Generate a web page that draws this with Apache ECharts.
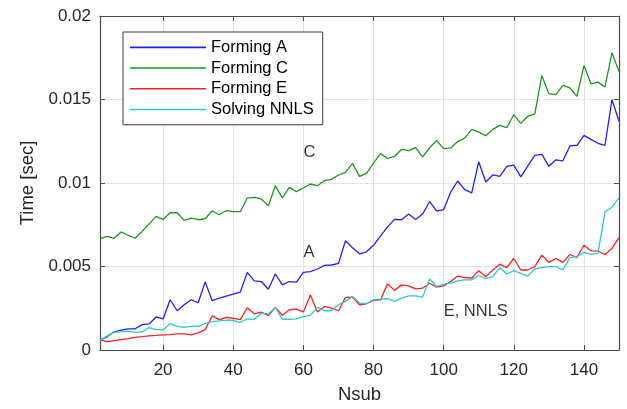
<!DOCTYPE html>
<html>
<head>
<meta charset="utf-8">
<script src="https://cdn.jsdelivr.net/npm/echarts@6/dist/echarts.min.js"></script>
<style>
  html, body { margin: 0; padding: 0; background: #fff; }
  #chart { width: 627px; height: 409px; }
</style>
</head>
<body>
<div id="chart"></div>
<script>
// Number of subdomains
const nsub = [2,4,6,8,10,12,14,16,18,20,22,24,26,28,30,32,34,36,38,40,
  42,44,46,48,50,52,54,56,58,60,62,64,66,68,70,72,74,76,78,80,
  82,84,86,88,90,92,94,96,98,100,102,104,106,108,110,112,114,116,118,120,
  122,124,126,128,130,132,134,136,138,140,142,144,146,148,150];

// Timings in seconds
const formingA = [0.00059,0.00079,0.00109,0.00119,0.00127,0.00127,0.00152,0.00156,0.00198,0.00186,
  0.00301,0.00235,0.00271,0.00301,0.00283,0.00408,0.00295,0.00310,0.00322,0.00334,
  0.00346,0.00465,0.00414,0.00410,0.00364,0.00455,0.00390,0.00410,0.00406,0.00465,
  0.00469,0.00485,0.00507,0.00509,0.00519,0.00654,0.00612,0.00576,0.00588,0.00627,
  0.00683,0.00737,0.00782,0.00780,0.00814,0.00782,0.00814,0.00889,0.00832,0.00841,
  0.00945,0.01012,0.00960,0.00941,0.01127,0.01006,0.01048,0.01040,0.01100,0.01107,
  0.01037,0.01103,0.01166,0.01172,0.01100,0.01139,0.01133,0.01222,0.01226,0.01285,
  0.01261,0.01238,0.01226,0.01499,0.01370];

const formingC = [0.00667,0.00681,0.00669,0.00707,0.00687,0.00669,0.00710,0.00755,0.00800,0.00782,
  0.00822,0.00822,0.00776,0.00790,0.00780,0.00786,0.00834,0.00810,0.00835,0.00828,
  0.00828,0.00910,0.00914,0.00904,0.00863,0.00984,0.00911,0.00974,0.00948,0.00970,
  0.00994,0.00984,0.01014,0.01022,0.01048,0.01064,0.01117,0.01040,0.01058,0.01119,
  0.01176,0.01147,0.01159,0.01202,0.01194,0.01212,0.01156,0.01212,0.01254,0.01206,
  0.01210,0.01248,0.01269,0.01321,0.01305,0.01283,0.01321,0.01345,0.01331,0.01410,
  0.01357,0.01400,0.01414,0.01644,0.01535,0.01529,0.01584,0.01569,0.01519,0.01703,
  0.01594,0.01604,0.01575,0.01780,0.01667];

const formingE = [0.00060,0.00050,0.00056,0.00062,0.00068,0.00076,0.00080,0.00085,0.00087,0.00090,
  0.00092,0.00097,0.00097,0.00090,0.00103,0.00122,0.00204,0.00182,0.00196,0.00190,
  0.00182,0.00253,0.00217,0.00227,0.00206,0.00255,0.00208,0.00241,0.00245,0.00228,
  0.00330,0.00228,0.00261,0.00251,0.00235,0.00315,0.00317,0.00271,0.00277,0.00297,
  0.00301,0.00396,0.00357,0.00390,0.00384,0.00366,0.00370,0.00400,0.00376,0.00384,
  0.00410,0.00443,0.00434,0.00430,0.00475,0.00438,0.00479,0.00513,0.00493,0.00548,
  0.00479,0.00479,0.00499,0.00568,0.00525,0.00548,0.00525,0.00572,0.00554,0.00627,
  0.00594,0.00592,0.00572,0.00608,0.00673];

const solvingNNLS = [0.00059,0.00083,0.00107,0.00109,0.00113,0.00105,0.00108,0.00134,0.00122,0.00122,
  0.00157,0.00142,0.00135,0.00142,0.00142,0.00158,0.00170,0.00174,0.00179,0.00178,
  0.00166,0.00186,0.00182,0.00220,0.00216,0.00255,0.00184,0.00184,0.00186,0.00200,
  0.00208,0.00255,0.00235,0.00235,0.00271,0.00291,0.00321,0.00281,0.00277,0.00301,
  0.00305,0.00307,0.00291,0.00311,0.00324,0.00324,0.00317,0.00425,0.00380,0.00394,
  0.00400,0.00414,0.00420,0.00420,0.00446,0.00428,0.00440,0.00493,0.00455,0.00475,
  0.00459,0.00443,0.00485,0.00493,0.00499,0.00499,0.00479,0.00553,0.00559,0.00584,
  0.00572,0.00578,0.00826,0.00856,0.00911];

const seriesNames = ['Forming A', 'Forming C', 'Forming E', 'Solving NNLS'];
const xTicks = [20, 40, 60, 80, 100, 120, 140];

// In-plot text labels: [nsub, time, text]
const curveLabels = [[60, 0.012, 'C'], [60, 0.006, 'A'], [100, 0.0025, 'E, NNLS']];

const FONT = '"Liberation Sans", Arial, Helvetica, sans-serif';
const AXIS_COLOR = '#4a4a4a';
const GRID_COLOR = '#e3e3e3';
const TEXT_COLOR = '#262626';

function pairs(ys) { return nsub.map((x, i) => [x, ys[i]]); }

function lineSeries(name, ys, color) {
  return {
    name: name, type: 'line', data: pairs(ys),
    xAxisIndex: 0, yAxisIndex: 0,
    symbol: 'none', showSymbol: false,
    lineStyle: { color: color, width: 1.3 },
    itemStyle: { color: color },
    emphasis: { disabled: true }
  };
}

const bottomX = {
  type: 'value', position: 'bottom', min: 2, max: 150,
  axisLine: { show: true, onZero: false, lineStyle: { color: AXIS_COLOR, width: 1.2 } },
  axisTick: { show: true, inside: true, length: 5, customValues: xTicks, lineStyle: { color: AXIS_COLOR } },
  axisLabel: { show: true, customValues: xTicks, margin: 12, color: TEXT_COLOR, fontSize: 17, fontFamily: FONT },
  splitLine: { show: true, lineStyle: { color: GRID_COLOR, width: 1 } },
  name: 'Nsub', nameLocation: 'middle', nameGap: 35,
  nameTextStyle: { color: TEXT_COLOR, fontSize: 18.5, fontFamily: FONT }
};
const topX = {
  type: 'value', position: 'top', min: 2, max: 150,
  axisLine: { show: true, onZero: false, lineStyle: { color: AXIS_COLOR, width: 1.2 } },
  axisTick: { show: true, inside: true, length: 5, customValues: xTicks, lineStyle: { color: AXIS_COLOR } },
  axisLabel: { show: false, customValues: xTicks },
  splitLine: { show: false }
};
const leftY = {
  type: 'value', position: 'left', min: 0, max: 0.02, interval: 0.005,
  axisLine: { show: true, onZero: false, lineStyle: { color: AXIS_COLOR, width: 1.2 } },
  axisTick: { show: true, inside: true, length: 5, lineStyle: { color: AXIS_COLOR } },
  axisLabel: { show: true, margin: 9, color: TEXT_COLOR, fontSize: 17, fontFamily: FONT },
  splitLine: { show: true, lineStyle: { color: GRID_COLOR, width: 1 } },
  name: 'Time [sec]', nameLocation: 'middle', nameGap: 58,
  nameTextStyle: { color: TEXT_COLOR, fontSize: 18.5, fontFamily: FONT }
};
const rightY = {
  type: 'value', position: 'right', min: 0, max: 0.02, interval: 0.005,
  axisLine: { show: true, onZero: false, lineStyle: { color: AXIS_COLOR, width: 1.2 } },
  axisTick: { show: true, inside: true, length: 5, lineStyle: { color: AXIS_COLOR } },
  axisLabel: { show: false },
  splitLine: { show: false }
};

const chart = echarts.init(document.getElementById('chart'), null, { renderer: 'canvas' });
chart.setOption({
  animation: false,
  backgroundColor: '#ffffff',
  grid: { left: 100, right: 8, top: 16, bottom: 57, containLabel: false },
  xAxis: [bottomX, topX],
  yAxis: [leftY, rightY],
  legend: {
    data: seriesNames,
    left: 123, top: 32, orient: 'vertical',
    backgroundColor: '#ffffff', borderColor: '#3a3a3a', borderWidth: 1,
    padding: [5, 9, 5, 7], itemGap: 0,
    icon: 'rect', itemWidth: 76, itemHeight: 1.6,
    textStyle: { color: '#000', fontSize: 16.5, lineHeight: 20.7, fontFamily: FONT },
    selectedMode: false
  },
  series: [
    lineSeries(seriesNames[0], formingA, '#1f1fff'),
    lineSeries(seriesNames[1], formingC, '#1f951f'),
    lineSeries(seriesNames[2], formingE, '#ff1f1f'),
    lineSeries(seriesNames[3], solvingNNLS, '#2ec9c9'),
    {
      name: 'curve labels', type: 'scatter', data: curveLabels,
      xAxisIndex: 0, yAxisIndex: 0,
      symbolSize: 0, silent: true,
      label: {
        show: true, position: 'right', distance: 0, offset: [0, 3],
        formatter: p => p.value[2],
        color: '#000', fontSize: 16.5, fontFamily: FONT
      }
    }
  ]
});
</script>
</body>
</html>
